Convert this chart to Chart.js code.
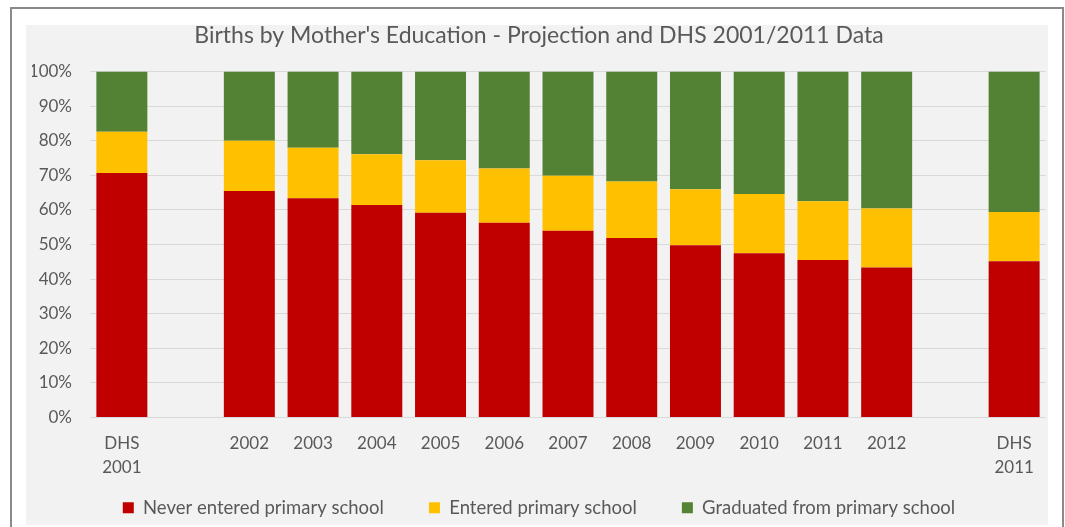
<!DOCTYPE html>
<html>
<head>
<meta charset="utf-8">
<script src="https://cdn.jsdelivr.net/npm/chart.js@4"></script>
<style>
  html, body { margin: 0; padding: 0; background: #fff; }
  body { width: 1065px; height: 527px; position: relative; overflow: hidden; }
  #frame { position: absolute; left: 10px; top: 7px; width: 1050px; height: 540px; border: 2px solid #8a8a8a; }
  #wrap { position: absolute; left: 26px; top: 20px; width: 1022px; height: 507px; }
</style>
</head>
<body>
<div id="frame"></div>
<div id="wrap"><canvas id="chart"></canvas></div>
<script>
// slots 1 and 13 are the empty gaps around the projection years
const categories = [['DHS', '2001'], '', '2002', '2003', '2004', '2005', '2006', '2007',
                    '2008', '2009', '2010', '2011', '2012', '', ['DHS', '2011']];
const neverEntered = [70.7, null, 65.5, 63.4, 61.4, 59.2, 56.3, 54.0, 51.9, 49.8, 47.5, 45.5, 43.4, null, 45.2];
const enteredPrimary = [11.9, null, 14.5, 14.6, 14.7, 15.2, 15.7, 15.9, 16.3, 16.2, 17.1, 17.0, 17.0, null, 14.2];
const graduatedPrimary = [17.4, null, 20.0, 22.0, 23.9, 25.6, 28.0, 30.1, 31.8, 34.0, 35.4, 37.5, 39.6, null, 40.6];
const yTicks = [0, 10, 20, 30, 40, 50, 60, 70, 80, 90, 100];

const textColor = '#595959';
const fontFamily = 'Lato, "Open Sans", sans-serif';

// grey plot background, drawn before everything else
const backdrop = {
    id: 'backdrop',
    beforeDraw(chart) {
        const ctx = chart.ctx;
        ctx.save();
        ctx.fillStyle = '#f2f2f2';
        ctx.fillRect(0, 5, chart.width, 500);
        ctx.restore();
    }
};

const ctx = document.getElementById('chart').getContext('2d');
new Chart(ctx, {
    type: 'bar',
    data: {
        labels: categories,
        datasets: [
            { label: 'Never entered primary school', data: neverEntered, backgroundColor: '#c00000' },
            { label: 'Entered primary school', data: enteredPrimary, backgroundColor: '#ffc000' },
            { label: 'Graduated from primary school', data: graduatedPrimary, backgroundColor: '#548235' }
        ]
    },
    options: {
        responsive: true,
        maintainAspectRatio: false,
        animation: false,
        categoryPercentage: 1,
        barPercentage: 0.8,
        layout: { padding: { left: 6, right: 2, top: 0, bottom: 0 } },
        plugins: {
            title: {
                display: true,
                text: "Births by Mother's Education - Projection and DHS 2001/2011 Data",
                color: textColor,
                font: { family: fontFamily, size: 23, weight: 'normal' },
                padding: { top: 2, bottom: 22 }
            },
            legend: {
                position: 'bottom',
                labels: {
                    color: textColor,
                    font: { family: fontFamily, size: 18.5 },
                    boxWidth: 11,
                    boxHeight: 11,
                    padding: 45
                }
            },
            tooltip: { enabled: false }
        },
        scales: {
            x: {
                stacked: true,
                grid: { display: false },
                border: { display: false },
                ticks: {
                    color: textColor,
                    font: { family: fontFamily, size: 17, lineHeight: 1.41 },
                    padding: 6,
                    maxRotation: 0,
                    autoSkip: false
                },
                afterFit(scale) {
                    scale.height = 36;
                    // the two-line DHS labels run into the legend band, don't clip them
                    scale._computeLabelArea = () => null;
                }
            },
            y: {
                stacked: true,
                min: 0,
                max: 100,
                afterBuildTicks(scale) { scale.ticks = yTicks.map(v => ({ value: v })); },
                grid: { color: '#d9d9d9', drawTicks: false },
                border: { display: false },
                ticks: {
                    color: textColor,
                    font: { family: fontFamily, size: 17 },
                    padding: 18,
                    callback: v => v + '%'
                },
                afterFit(scale) { scale.width = 58; }
            }
        }
    },
    plugins: [backdrop]
});
</script>
</body>
</html>
